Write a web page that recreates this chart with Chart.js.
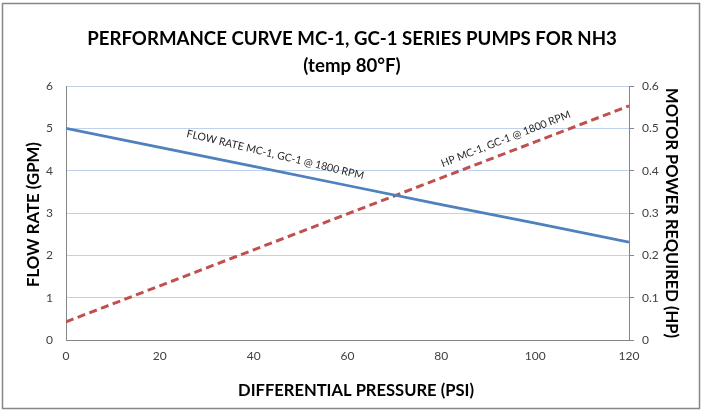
<!DOCTYPE html>
<html><head><meta charset="utf-8">
<script src="https://cdn.jsdelivr.net/npm/chart.js@4.4.1/dist/chart.umd.min.js"></script>
<style>html,body{margin:0;padding:0;background:#fff;} canvas{display:block;}</style>
</head><body>
<canvas id="c" width="702" height="413"></canvas>
<script>
// ---- data ----
const pressure = [0, 20, 40, 60, 80, 100, 120];
const flowRate = [5.00, 4.55, 4.10, 3.65, 3.20, 2.76, 2.31];
const motorHP  = [0.043, 0.128, 0.213, 0.298, 0.383, 0.468, 0.553];
const titleLines = ['PERFORMANCE CURVE MC-1, GC-1 SERIES PUMPS FOR NH3', '(temp 80°F)'];
const xTitle = 'DIFFERENTIAL PRESSURE (PSI)';
const yTitle = 'FLOW RATE (GPM)';
const y1Title = 'MOTOR POWER REQUIRED (HP)';
const flowLabel = 'FLOW RATE MC-1, GC-1 @ 1800 RPM';
const hpLabel = 'HP MC-1, GC-1 @ 1800 RPM';
const flowLabelAt = [25.6, 4.80];
const hpLabelAt = [80.3, 0.408];

const FONT = 'Lato, "Open Sans", sans-serif';
function fitSize(ctx, text, weight, target) {
  ctx.font = weight + ' 100px ' + FONT;
  return 100 * target / ctx.measureText(text).width;
}

const decor = {
  id: 'decor',
  afterDraw(chart) {
    const ctx = chart.ctx;
    const sx = chart.scales.x, sy = chart.scales.y, sy1 = chart.scales.y1;
    ctx.save();
    ctx.strokeStyle = '#868686'; ctx.lineWidth = 1.5;
    ctx.strokeRect(2.5, 3.5, 697, 405);

    ctx.fillStyle = '#000';
    ctx.textAlign = 'center'; ctx.textBaseline = 'alphabetic';
    let s = fitSize(ctx, titleLines[0], 'bold', 530);
    ctx.font = 'bold ' + s + 'px ' + FONT;
    ctx.fillText(titleLines[0], 352, 45);
    ctx.fillText(titleLines[1], 352, 71.5);

    s = fitSize(ctx, xTitle, 'bold', 236);
    ctx.font = 'bold ' + s + 'px ' + FONT;
    ctx.fillText(xTitle, 356, 395.5);

    ctx.textBaseline = 'middle';
    s = fitSize(ctx, yTitle, 'bold', 145);
    ctx.font = 'bold ' + s + 'px ' + FONT;
    ctx.save(); ctx.translate(33.5, 214.5); ctx.rotate(-Math.PI / 2);
    ctx.fillText(yTitle, 0, 0); ctx.restore();

    s = fitSize(ctx, y1Title, 'bold', 250);
    ctx.font = 'bold ' + s + 'px ' + FONT;
    ctx.save(); ctx.translate(671, 213); ctx.rotate(Math.PI / 2);
    ctx.fillText(y1Title, 0, 0); ctx.restore();

    ctx.textAlign = 'left'; ctx.textBaseline = 'alphabetic';
    ctx.fillStyle = '#262626';
    s = fitSize(ctx, flowLabel, 'normal', 182);
    ctx.font = s + 'px ' + FONT;
    ctx.save();
    ctx.translate(sx.getPixelForValue(flowLabelAt[0]), sy.getPixelForValue(flowLabelAt[1]));
    ctx.rotate(13.5 * Math.PI / 180);
    ctx.fillText(flowLabel, 0, 0); ctx.restore();
    ctx.save();
    ctx.translate(sx.getPixelForValue(hpLabelAt[0]), sy1.getPixelForValue(hpLabelAt[1]));
    ctx.rotate(-21.3 * Math.PI / 180);
    ctx.fillText(hpLabel, 0, 0); ctx.restore();
    ctx.restore();
  }
};

const tickFont = { family: FONT, size: 12 };
new Chart(document.getElementById('c'), {
  type: 'line',
  data: {
    datasets: [
      { label: flowLabel, data: pressure.map((p, i) => ({ x: p, y: flowRate[i] })), yAxisID: 'y',
        borderColor: '#4F81BD', borderWidth: 2.75, pointRadius: 0, tension: 0 },
      { label: hpLabel, data: pressure.map((p, i) => ({ x: p, y: motorHP[i] })), yAxisID: 'y1',
        borderColor: '#C0504D', borderWidth: 3, borderDash: [8, 4.5], pointRadius: 0, tension: 0 }
    ]
  },
  options: {
    responsive: false, animation: false, devicePixelRatio: 1,
    layout: { padding: { top: 86, left: 0, right: 0, bottom: 0 } },
    plugins: { legend: { display: false }, title: { display: false }, tooltip: { enabled: false } },
    scales: {
      x: { type: 'linear', min: 0, max: 120,
        ticks: { stepSize: 20, color: '#404040', font: tickFont, padding: 9, maxRotation: 0 },
        grid: { display: false, drawTicks: false },
        border: { color: '#868686', width: 1 },
        afterFit(sc) { sc.height = 73; } },
      y: { position: 'left', min: 0, max: 6,
        ticks: { stepSize: 1, color: '#404040', font: tickFont, padding: 13 },
        grid: { color: '#BFD2EA', drawTicks: false, lineWidth: 1 },
        border: { color: '#868686', width: 1 },
        afterFit(sc) { sc.width = 66; } },
      y1: { position: 'right', min: 0, max: 0.6,
        ticks: { stepSize: 0.1, color: '#404040', font: tickFont, padding: 8,
          callback: v => v === 0 ? '0' : v.toFixed(1) },
        grid: { drawOnChartArea: false, color: '#868686', tickLength: 5 },
        border: { color: '#868686', width: 1 },
        afterFit(sc) { sc.width = 73; } }
    }
  },
  plugins: [decor]
});
</script>
</body></html>
